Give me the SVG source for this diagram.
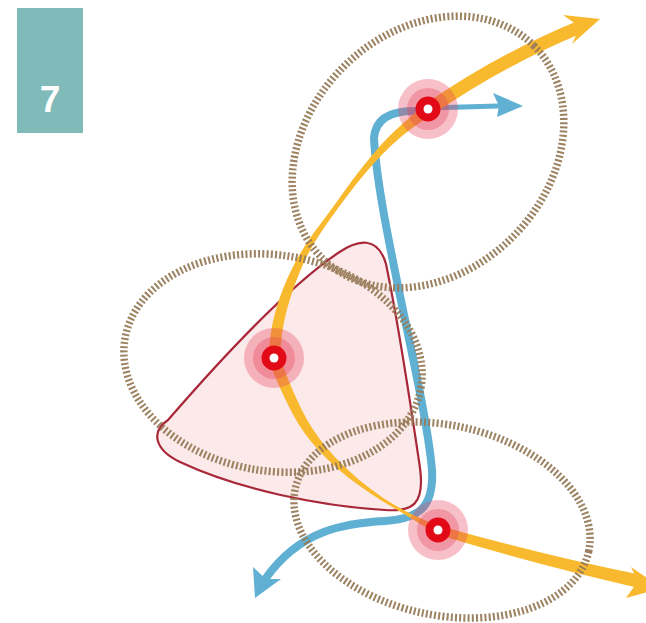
<svg xmlns="http://www.w3.org/2000/svg" width="646" height="623" viewBox="0 0 646 623">
  <style>
    .ring { fill: none; stroke: #977B58; stroke-width: 7.5; stroke-dasharray: 2 2.2; opacity: 0.95; }
    .yel { fill: #F8B92E; }
    .yels { fill: none; stroke: #F8B92E; stroke-linecap: round; }
    .blue { fill: none; stroke: #5FB0D2; stroke-linecap: round; stroke-linejoin: round; }
    .bluef { fill: #5FB0D2; }
    .halo { fill: #E8405C; opacity: 0.33; }
    .core { fill: #E30A17; }
    .hole { fill: #FFFFFF; }
    .label { font-family: "Liberation Sans", Arial, sans-serif; font-weight: bold; fill: #FFFFFF; }
  </style>
  <rect width="646" height="623" fill="#FFFFFF"/>

  <g id="badge">
    <rect x="17" y="8" width="66" height="125" fill="#80BBB9"/>
    <text class="label" x="50" y="112" font-size="37" text-anchor="middle">7</text>
  </g>

  <g id="zone">
    <path d="M338,253 C358,239 378,236 386,264 C398,322 410,400 420,468 C425,505 412,512 385,510 C320,506 240,490 180,462 C155,450 150,432 168,420 C220,360 288,287 338,253 Z" fill="#FCE9E9" stroke="#A8283A" stroke-width="2.2"/>
  </g>

  <g id="connectors">
    <!-- blue route -->
    <path class="blue" stroke-width="5" d="M428,108 L498,106"/>
    <polygon class="bluef" points="523,106 493,93 499,106 497,117"/>
    <path class="blue" stroke-width="8" d="M414,111 Q376,111 374,138 C378,220 425,390 432,470 C434,508 418,519 385,521 C345,523 300,530 266,578"/>
    <polygon class="bluef" points="255,598 253,567 266,579 281,579"/>

    <!-- yellow route -->
    <path class="yels" stroke-width="13" d="M428,110 Q500,60 580,27"/>
    <polygon class="yel" points="600,19 563,15 580,27 572,44"/>
    <path class="yel" d="M424.4,105.2 Q394.0,129.7 377.4,148.9 Q360.7,168.1 344.5,190.9 Q328.2,213.7 315.1,231.0 Q302.0,248.3 292.2,268.3 Q282.3,288.3 277.0,306.2 Q271.6,324.0 269.8,340.8 L268.0,357.5 L280.0,358.5 L281.2,342.3 Q282.4,326.0 287.1,308.9 Q291.7,291.8 299.9,271.8 Q308.0,251.7 319.9,234.0 Q331.8,216.3 348.6,194.1 Q365.3,171.9 382.7,154.1 Q400.1,136.3 415.9,125.6 L431.6,114.8 Z"/>
    <path class="yel" d="M268.4,360.1 Q281.0,392.3 292.7,414.0 Q304.3,435.6 321.2,452.9 Q338.0,470.2 356.0,483.3 Q374.0,496.4 389.2,505.3 Q404.4,514.1 420.3,523.9 L436.2,533.6 L439.8,526.4 L422.7,519.2 Q405.6,511.9 390.8,502.8 Q376.0,493.6 359.0,479.7 Q342.0,465.8 326.9,448.1 Q311.7,430.4 301.4,409.1 Q291.0,387.7 285.3,371.8 L279.6,355.9 Z"/>
    <path class="yel" d="M436.7,534.3 Q538.6,565.3 636.6,587.4 L639.4,574.6 Q541.4,554.7 439.3,525.7 Z"/>
    <polygon class="yel" points="662,588 631,567 638,581 626,598"/>
  </g>

  <g id="rings">
    <ellipse class="ring" cx="428" cy="152" rx="150" ry="120" transform="rotate(-45 428 152)"/>
    <ellipse class="ring" cx="273" cy="363" rx="150" ry="108" transform="rotate(9 273 363)"/>
    <ellipse class="ring" cx="442" cy="520" rx="150" ry="95" transform="rotate(12 442 520)"/>
  </g>

  <g id="node-top">
    <circle class="halo" cx="428" cy="109" r="30"/>
    <circle class="halo" cx="428" cy="109" r="21"/>
    <circle class="core" cx="428" cy="109" r="12.5"/>
    <circle class="hole" cx="428" cy="109" r="4.5"/>
  </g>
  <g id="node-left">
    <circle class="halo" cx="274" cy="358" r="30"/>
    <circle class="halo" cx="274" cy="358" r="21"/>
    <circle class="core" cx="274" cy="358" r="12.5"/>
    <circle class="hole" cx="274" cy="358" r="4.5"/>
  </g>
  <g id="node-bottom">
    <circle class="halo" cx="438" cy="530" r="30"/>
    <circle class="halo" cx="438" cy="530" r="21"/>
    <circle class="core" cx="438" cy="530" r="12.5"/>
    <circle class="hole" cx="438" cy="530" r="4.5"/>
  </g>
</svg>
